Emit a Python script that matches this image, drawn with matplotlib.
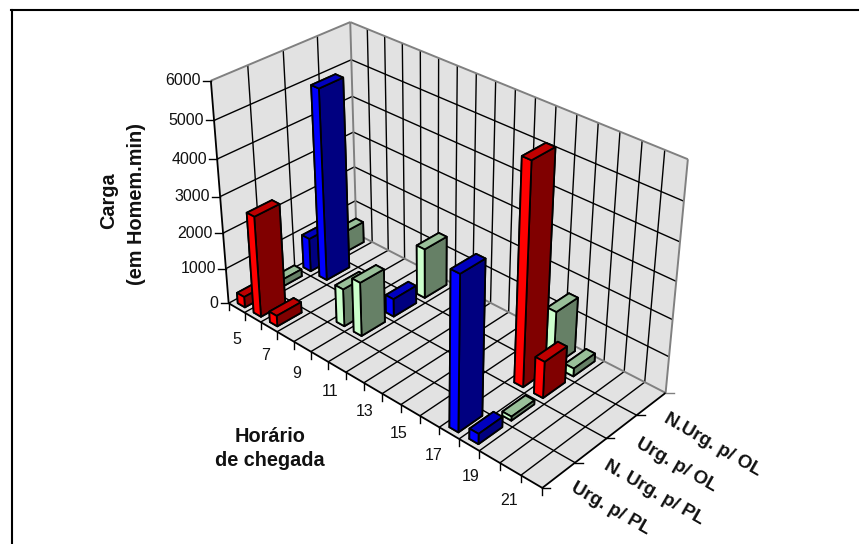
import numpy as np
import matplotlib
matplotlib.use("Agg")
import matplotlib.pyplot as plt
from matplotlib.transforms import Affine2D
from mpl_toolkits.mplot3d.art3d import Poly3DCollection

hours = list(range(5, 22))
series_names = ["Urg. p/ PL", "N. Urg. p/ PL", "Urg. p/ OL", "N.Urg. p/ OL"]
z_ticks = [0, 1000, 2000, 3000, 4000, 5000, 6000]
x_labels = ["5", "7", "9", "11", "13", "15", "17", "19", "21"]

#            5     6     7  8  9    10    11 12 13 14 15 16 17    18   19 20 21
urg_pl   = [300, 2800, 300, 0, 0,    0,   0, 0, 0, 0, 0, 0, 4100, 280, 0, 0, 0]
nurg_pl  = [200,    0,   0, 0, 1050, 1500, 0, 0, 0, 0, 0, 0,  0,  110, 0, 0, 0]
urg_ol   = [950, 5300,   0, 0, 0,  500,   0, 0, 0, 0, 0, 0, 5850, 1000, 0, 0, 0]
nurg_ol  = [600,    0,   0, 0, 0, 1400,   0, 0, 0, 0, 0, 0, 1500, 220, 0, 0, 0]
urg_pl_c  = "rrr.........bb..."
nurg_pl_c = "g...gg.......g..."
urg_ol_c  = "bb...b......rr..."
nurg_ol_c = "g....g......gg..."
values = [urg_pl, nurg_pl, urg_ol, nurg_ol]
group_colors = [urg_pl_c, nurg_pl_c, urg_ol_c, nurg_ol_c]

BASE = {"r": (1, 0, 0), "b": (0, 0, 1), "g": (204/255, 1, 204/255)}
WALL = "#e2e2e2"
EDGE = "#808080"
W, H = 860, 544

nx, ny, zmax = len(hours), len(series_names), z_ticks[-1]

# camera calibration: box corners and two axis ticks (normalised) -> image pixels
box = [(0,0,0),(0,0,1),(1,0,0),(1,1,0),(1,1,1),(0,1,0),(0,1,1),(4/17,0,0),(11/17,0,0)]
pix = [(230,304),(211,81),(541,487),(665,393),(688,159),(357,234),(350,22),(289.3,339),(424.3,418.3)]
A = []
b = []
for (X,Y,Z),(u,v) in zip(box,pix):
    u_n, v_n = u/(W/2)-1, v/(H/2)-1
    A.append([X,Y,Z,1,0,0,0,0,-u_n*X,-u_n*Y,-u_n*Z]); b.append(u_n)
    A.append([0,0,0,0,X,Y,Z,1,-v_n*X,-v_n*Y,-v_n*Z]); b.append(v_n)
h = np.linalg.lstsq(np.array(A,float),np.array(b,float),rcond=None)[0]
P = np.append(h,1.0).reshape(3,4)
S = np.diag([1/nx,1/ny,1/zmax,1.0])
row_u = P[0] @ S; row_v = P[1] @ S; row_w = P[2] @ S
row_d = np.array([-0.4/nx, 0.4/ny, -0.12/zmax, 0.0])
M = np.array([row_u,row_v,row_d,row_w])

def project(x,y,z):
    q = M @ np.array([x,y,z,1.0])
    return (q[0]/q[3]+1)*W/2, (q[1]/q[3]+1)*H/2

plt.rcParams["font.family"] = ["Liberation Sans","DejaVu Sans"]
fig = plt.figure(figsize=(W/100,H/100),dpi=100,facecolor="white")
ax = fig.add_axes([0,0,1,1],projection="3d")
ax.set_axis_off()
ax.computed_zorder = False
ax.set_proj_type("ortho")
ax.set_autoscale_on(False)
ax.set_xlim(0,nx); ax.set_ylim(0,ny); ax.set_zlim(0,zmax)
ax.get_proj = lambda: M
ax.apply_aspect = lambda position=None: None
ax.viewLim.intervalx = (-1,1)
ax.viewLim.intervaly = (1,-1)
px = Affine2D().scale(1/W,-1/H).translate(0,1) + fig.transFigure

walls = [
    [(0,0,0),(nx,0,0),(nx,ny,0),(0,ny,0)],
    [(0,0,0),(0,ny,0),(0,ny,zmax),(0,0,zmax)],
    [(0,ny,0),(nx,ny,0),(nx,ny,zmax),(0,ny,zmax)],
]
ax.add_collection3d(Poly3DCollection(walls,facecolors=WALL,edgecolors="none",zorder=1))

def seg(p,q,color="black",lw=1.0,zo=2):
    ax.plot([p[0],q[0]],[p[1],q[1]],[p[2],q[2]],color=color,lw=lw,zorder=zo,solid_capstyle="butt")

for i in range(1,nx):
    seg((i,0,0),(i,ny,0)); seg((i,ny,0),(i,ny,zmax))
for j in range(1,ny):
    seg((0,j,0),(nx,j,0)); seg((0,j,0),(0,j,zmax))
for t in z_ticks[1:-1]:
    seg((0,0,t),(0,ny,t)); seg((0,ny,t),(nx,ny,t))
for p,q in [((0,0,zmax),(0,ny,zmax)),((0,ny,zmax),(nx,ny,zmax)),((nx,ny,zmax),(nx,ny,0)),
            ((0,ny,0),(0,ny,zmax)),((0,ny,0),(nx,ny,0))]:
    seg(p,q,color=EDGE,lw=1.4,zo=3)
seg((0,0,0),(0,0,zmax),lw=1.3,zo=4); seg((0,0,0),(nx,0,0),lw=1.3,zo=4); seg((nx,0,0),(nx,ny,0),lw=1.3,zo=4)
seg((0,0,0),(0,ny,0),lw=1.0,zo=4)

def line2d(xs,ys,color="black",lw=1.0,zo=4):
    ax.add_line(plt.Line2D(xs,ys,color=color,lw=lw,zorder=zo,transform=px,clip_on=False))

for t in z_ticks:
    u,v = project(0,0,t)
    line2d([u-8,u],[v,v])
    ax.text2D(u-10,v,str(t),ha="right",va="center",fontsize=11.5,color="#111111",transform=px,zorder=6)
for i in range(nx+1):
    u,v = project(i,0,0)
    line2d([u,u],[v,v+7])
for j in range(ny+1):
    u,v = project(nx,j,0)
    line2d([u,u+8],[v,v],color="black" if j<ny else EDGE)

bar_x, bar_w = 0.275, 0.45
bar_y, bar_d = 0.14, 0.72
for j in range(ny):
    for i in range(nx):
        val = values[j][i]
        key = group_colors[j][i]
        if val <= 0 or key == ".":
            continue
        c = np.array(BASE[key])
        faces = [tuple(c*0.5),tuple(c*0.75),tuple(c),tuple(c*0.5),tuple(c*0.5),tuple(c*0.5)]
        ax.bar3d(i+bar_x,j+bar_y,0,bar_w,bar_d,val,color=faces,shade=False,
                 edgecolor="black",linewidth=1.3,zorder=10+(i-j)+(i*0.001))

lbl = dict(transform=px,color="#111111",zorder=30)
x_label_pos = [(236.7,339),(266,355),(297,373),(330,392),(365,412),(399,433),(434,455),(471,476.7),(509.3,500.7)]
for s,(u,v) in zip(x_labels,x_label_pos):
    ax.text2D(u,v,s,ha="center",va="center",fontsize=11.5,**lbl)

bold = dict(fontweight="bold",fontsize=14.3,ha="center",va="center",**lbl)
ax.text2D(109,201,"Carga",rotation=90,**bold)
ax.text2D(136,204,"(em Homem.min)",rotation=90,**bold)
ax.text2D(270,436,"Horário",**bold)
ax.text2D(270,461,"de chegada",**bold)
bold_y = dict(bold, fontsize=13.5, ha="left")
y_label_pos = [(572,487),(605,465),(637,443),(665,418)]
for s,(u,v) in zip(series_names,y_label_pos):
    ax.text2D(u,v,s,rotation=-30,rotation_mode="anchor",**bold_y)

fig.add_artist(plt.Line2D([11.5/W,11.5/W],[0,1-10/H],color="black",lw=1.5))
fig.add_artist(plt.Line2D([11/W,858/W],[1-10/H,1-10/H],color="black",lw=1.5))
fig.savefig("out.png",dpi=100)
